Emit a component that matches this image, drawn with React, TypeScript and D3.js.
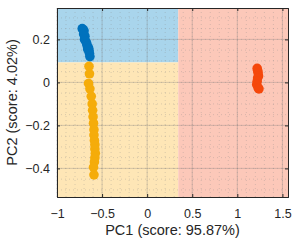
import { useEffect, useRef } from "react";
import * as d3 from "d3";

// PCA scores
const blueX = [-0.72, -0.71, -0.7, -0.705, -0.69, -0.695, -0.68, -0.67, -0.665, -0.65, -0.645, -0.64, -0.635, -0.66];
const blueY = [0.25, 0.245, 0.24, 0.225, 0.215, 0.2, 0.19, 0.18, 0.17, 0.16, 0.15, 0.135, 0.12, 0.155];
const yellowX = [-0.645, -0.64, -0.65, -0.635, -0.62, -0.61, -0.605, -0.6, -0.595, -0.59, -0.59, -0.585, -0.58, -0.58, -0.575, -0.58, -0.585, -0.595, -0.59];
const yellowY = [0.075, 0.04, -0.005, -0.03, -0.065, -0.1, -0.13, -0.16, -0.19, -0.22, -0.245, -0.27, -0.29, -0.31, -0.33, -0.35, -0.37, -0.395, -0.43];
const redX = [1.22, 1.225, 1.23, 1.235, 1.225, 1.22, 1.215, 1.23, 1.24];
const redY = [0.065, 0.055, 0.045, 0.03, 0.02, 0.005, -0.01, -0.025, -0.03];
const xTicks = [-1, -0.5, 0, 0.5, 1, 1.5];
const yTicks = [-0.4, -0.2, 0, 0.2];
const xSplit = 0.345;
const ySplit = 0.093;

const W = 297;
const H = 244;
const m = { left: 57, top: 8, right: 9, bottom: 47 };

export default function App() {
  const ref = useRef<SVGSVGElement>(null);
  useEffect(() => {
    const svg = d3.select(ref.current);
    svg.selectAll("*").remove();
    const x = d3.scaleLinear().domain([-1, 1.562]).range([m.left, W - m.right]);
    const y = d3.scaleLinear().domain([-0.533, 0.346]).range([H - m.bottom, m.top]);
    const [x0, x1] = x.range();
    const [y0, y1] = y.range();

    // coloured regions
    svg.append("rect").attr("x", x0).attr("y", y1).attr("width", x(xSplit) - x0).attr("height", y(ySplit) - y1).attr("fill", "#a9d5ec");
    svg.append("rect").attr("x", x0).attr("y", y(ySplit)).attr("width", x(xSplit) - x0).attr("height", y0 - y(ySplit)).attr("fill", "#fee6b6");
    svg.append("rect").attr("x", x(xSplit)).attr("y", y1).attr("width", x1 - x(xSplit)).attr("height", y0 - y1).attr("fill", "#fcc8b9");

    // minor grid
    const g = svg.append("g");
    d3.range(-1, 1.56, 0.1).forEach((v) => {
      g.append("line").attr("x1", x(v)).attr("x2", x(v)).attr("y1", y0).attr("y2", y1)
        .attr("stroke", "#8a8a8a").attr("stroke-opacity", 0.45).attr("stroke-dasharray", "1,3").attr("stroke-width", 0.7);
    });
    d3.range(-0.5, 0.35, 0.05).forEach((v) => {
      g.append("line").attr("y1", y(v)).attr("y2", y(v)).attr("x1", x0).attr("x2", x1)
        .attr("stroke", "#8a8a8a").attr("stroke-opacity", 0.45).attr("stroke-dasharray", "1,3").attr("stroke-width", 0.7);
    });
    // major grid
    xTicks.forEach((v) => {
      g.append("line").attr("x1", x(v)).attr("x2", x(v)).attr("y1", y0).attr("y2", y1)
        .attr("stroke", "#777").attr("stroke-opacity", 0.3);
    });
    yTicks.forEach((v) => {
      g.append("line").attr("y1", y(v)).attr("y2", y(v)).attr("x1", x0).attr("x2", x1)
        .attr("stroke", "#777").attr("stroke-opacity", 0.3);
    });

    // points
    const series: [number[], number[], string][] = [
      [blueX, blueY, "#0072bd"],
      [yellowX, yellowY, "#f5ac0a"],
      [redX, redY, "#f5480c"],
    ];
    series.forEach(([xs, ys, c]) => {
      svg.append("g").selectAll("circle").data(xs).join("circle")
        .attr("cx", (d) => x(d)).attr("cy", (_d, i) => y(ys[i])).attr("r", 4.8).attr("fill", c);
    });

    // axes
    const font = "Arial, 'Liberation Sans', sans-serif";
    const ax = svg.append("g").attr("transform", `translate(0,${y0})`)
      .call(d3.axisBottom(x).tickValues(xTicks).tickSize(-3).tickPadding(12).tickFormat(d3.format("")));
    const ay = svg.append("g").attr("transform", `translate(${x0},0)`)
      .call(d3.axisLeft(y).tickValues(yTicks).tickSize(-3).tickPadding(7).tickFormat(d3.format("")));
    const at = svg.append("g").attr("transform", `translate(0,${y1})`)
      .call(d3.axisTop(x).tickValues(xTicks).tickSize(-3).tickFormat(() => ""));
    const ar = svg.append("g").attr("transform", `translate(${x1},0)`)
      .call(d3.axisRight(y).tickValues(yTicks).tickSize(-3).tickFormat(() => ""));
    [ax, ay, at, ar].forEach((a) => {
      a.select(".domain").attr("stroke", "#262626");
      a.selectAll(".tick line").attr("stroke", "#262626");
      a.selectAll("text").attr("font-family", font).attr("font-size", 12.5).attr("fill", "#262626");
    });

    svg.append("text").attr("x", (x0 + x1) / 2).attr("y", 235).attr("text-anchor", "middle")
      .attr("font-family", font).attr("font-size", 14.5).attr("fill", "#262626").text("PC1 (score: 95.87%)");
    svg.append("text").attr("transform", `translate(17,${(y0 + y1) / 2}) rotate(-90)`).attr("text-anchor", "middle")
      .attr("font-family", font).attr("font-size", 14.5).attr("fill", "#262626").text("PC2 (score: 4.02%)");
  }, []);
  return (
    <svg ref={ref} width={W} height={H} style={{ position: "absolute", left: 0, top: 0, background: "#fff" }} />
  );
}
